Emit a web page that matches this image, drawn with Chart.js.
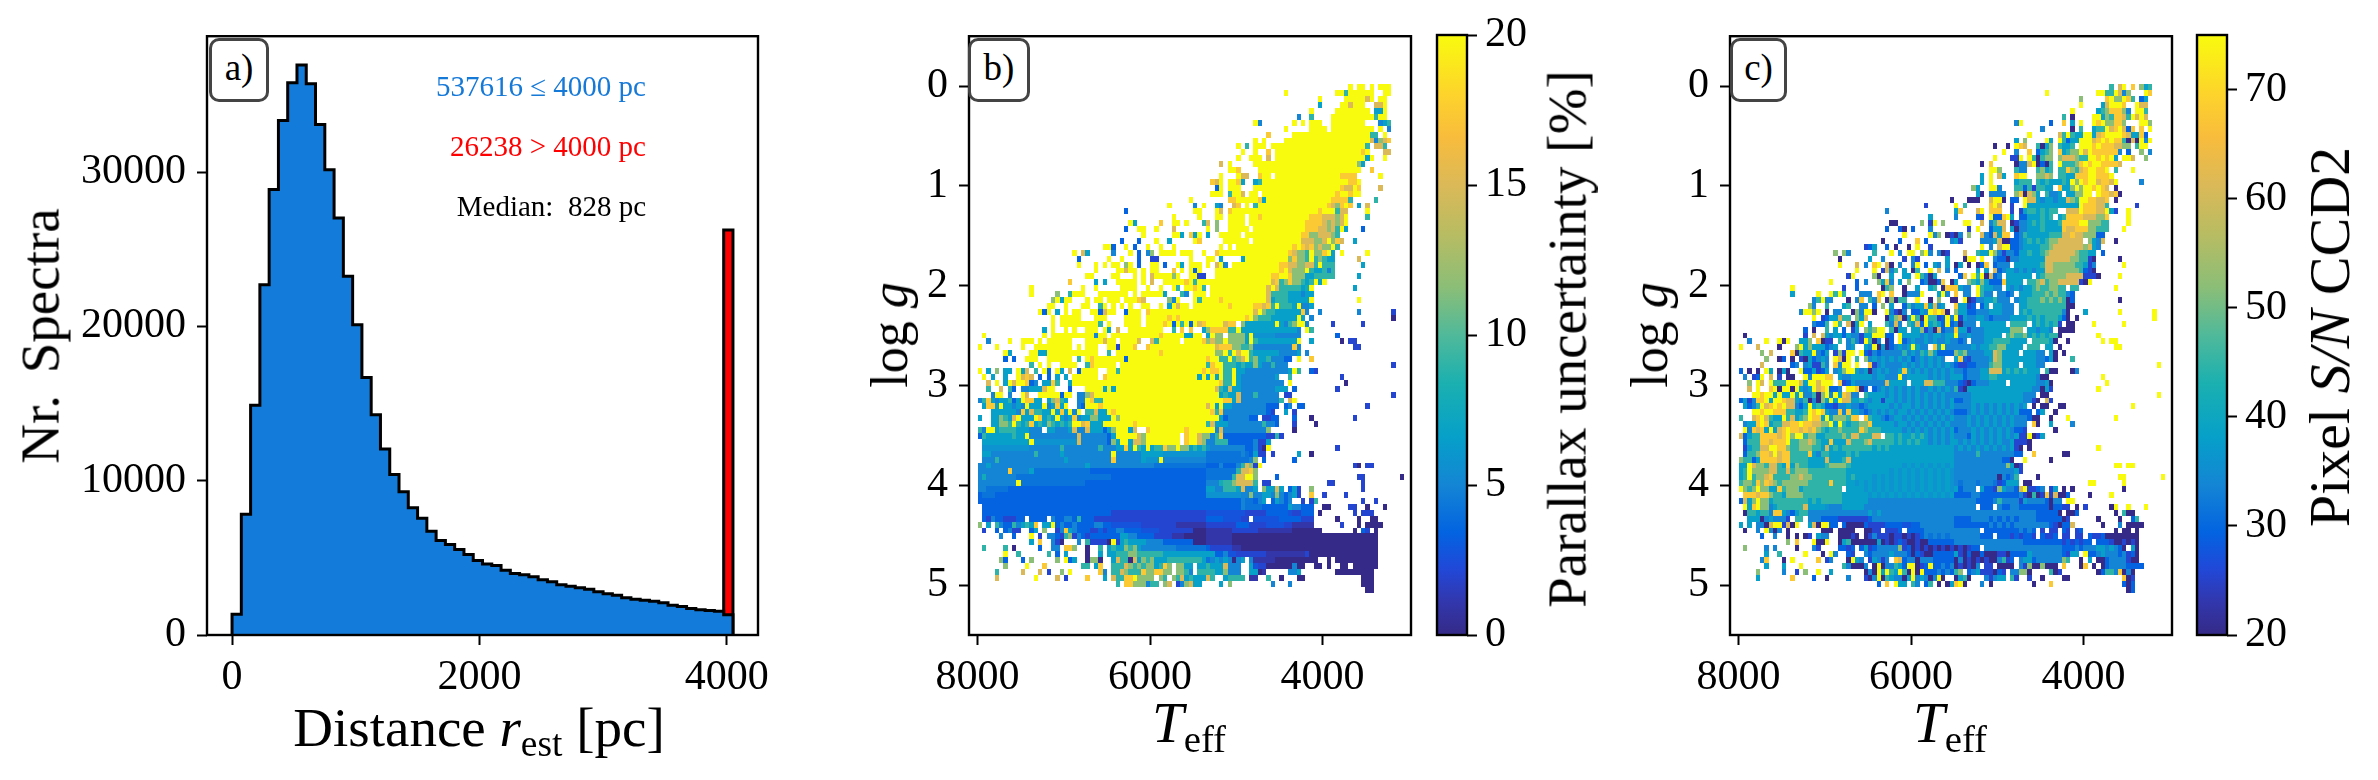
<!DOCTYPE html>
<html>
<head>
<meta charset="utf-8">
<script src="https://cdn.jsdelivr.net/npm/chart.js@4/dist/chart.umd.js"></script>
<style>
  html, body { margin: 0; background: #fff; }
  #fig { position: relative; width: 2378px; height: 780px; overflow: hidden; font-family: "Liberation Serif", serif; color: #000; }
  canvas { position: absolute; top: 0; }
  .lbl { position: absolute; white-space: nowrap; transform: translate(-50%, -50%); line-height: 1; }
  .lbl.rot { transform: translate(-50%, -50%) rotate(-90deg); }
  .lbl sub { font-size: 68%; vertical-align: -0.28em; line-height: 0; font-style: normal; }
  .note { position: absolute; white-space: nowrap; font-size: 29px; line-height: 1; transform: translateY(-50%); text-align: right; }
  .tag { position: absolute; top: 38px; height: 58px; box-sizing: content-box; border: 3px solid #444; border-radius: 10px; background: #fff; font-size: 37px; line-height: 54px; text-align: center; }
</style>
</head>
<body>
<div id="fig">
  <canvas id="histChart" width="800" height="780" style="left:0"></canvas>
  <canvas id="parallaxChart" width="580" height="780" style="left:850px"></canvas>
  <canvas id="parallaxBar" width="130" height="780" style="left:1420px"></canvas>
  <canvas id="snrChart" width="580" height="780" style="left:1612px"></canvas>
  <canvas id="snrBar" width="130" height="780" style="left:2180px"></canvas>

  <div class="tag" style="left:209px;width:54px">a)</div>
  <div class="tag" style="left:968px;width:56px">b)</div>
  <div class="tag" style="left:1730px;width:51px">c)</div>

  <div class="note" style="right:1732px;top:86px;color:#1579d8">537616 ≤ 4000 pc</div>
  <div class="note" style="right:1732px;top:146px;color:#ff0000">26238 &gt; 4000 pc</div>
  <div class="note" style="right:1732px;top:206px">Median:&nbsp; 828 pc</div>

  <div class="lbl" style="left:479px;top:727px;font-size:55px">Distance <i>r</i><sub>est</sub> [pc]</div>
  <div class="lbl rot" style="left:40px;top:336px;font-size:55px;word-spacing:8px">Nr. Spectra</div>
  <div class="lbl rot" style="left:890px;top:335px;font-size:52px">log <i>g</i></div>
  <div class="lbl" style="left:1189px;top:722px;font-size:57px"><i>T</i><sub>eff</sub></div>
  <div class="lbl rot" style="left:1567px;top:339px;font-size:55px">Parallax uncertainty [%]</div>
  <div class="lbl rot" style="left:1650px;top:335px;font-size:52px">log <i>g</i></div>
  <div class="lbl" style="left:1950px;top:722px;font-size:57px"><i>T</i><sub>eff</sub></div>
  <div class="lbl rot" style="left:2330px;top:337px;font-size:58px">Pixel <i>S/N</i> CCD2</div>
</div>
<script>
// ─── Data ───
const binWidth = 75;
const spectraCounts = [1350, 7830, 14880, 22700, 28860, 33330, 35780, 36940, 35720, 33080, 30140, 27020, 23250, 20100, 16680, 14270, 12050, 10400, 9280, 8245, 7570, 6730, 6120, 5860, 5540, 5220, 4830, 4600, 4510, 4190, 3990, 3900, 3770, 3575, 3450, 3250, 3160, 3060, 2960, 2800, 2670, 2580, 2420, 2320, 2250, 2190, 2090, 1930, 1840, 1710, 1640, 1580, 1545, 1320];
const overflowCount = 26238;
const overflowBin = [3975, 4050];
const histXTicks = [0, 2000, 4000];
const histYTicks = [0, 10000, 20000, 30000];
const teffTicks = [8000, 6000, 4000];
const loggTicks = [0, 1, 2, 3, 4, 5];
const parallaxTicks = [0, 5, 10, 15, 20];
const snrTicks = [20, 30, 40, 50, 60, 70];

// One string per log g row (top to bottom).
// "c:ddd" = cells from Teff column c on, "a-b:d" = run of one level.
const parallaxRows = [
"86:9 88:99 91:9 93-95:9",
"71:9 83:99 85:5 86-91:9 94:99",
"79:9 85-89:9 90:7 91:9 93:99",
"79:4 84:99 86:7 87-89:9 92:77 94:9",
"77:9 83-90:9 92:44 94:9",
"74:3 77:5 82-91:9 92:5 93:99",
"64:9 65:3 73:9 75:9 77:99 79:9 82-89:9 93:3 94:4 95:5",
"71:9 77-80:9 82-91:9 93:9 95:3",
"67:8 73-90:9 91:5 92:5 94:9",
"64:9 66:9 71-90:9 91:7 92:3 93:6 94:7 95:8",
"60:9 62:5 64-66:9 68-89:9 90:5 92:77 94:5",
"61:9 64:9 67:8 69-88:9 89:8 90:9 94:77",
"60:9 63-65:9 67:7 69-89:9 90:4 91:9 94:9",
"56:7 58:9 64-87:9 88:6 89:4",
"58:99 60:8 65-88:9 91:8",
"56:9 60:9 61:77 65:8 66:99 69-83:9 84-87:8 93:9",
"54:87 56:9 58:99 60:8 61:4 64:45 66-84:9 85:9 86:88 88:9",
"55:2 56:9 58-60:9 64-83:9 84:8 85:77 87:98 93:7",
"54-56:9 58:5 59:99 61:7 63:99 66-82:9 83:8 84:99 86:8 87:99",
"49:9 58:88 60:9 61-64:9 65:8 66:4 67-81:9 82-85:8 86:5 92:5",
"44:9 50:3 52:9 55:43 59:7 60:8 62:9 64:5 65-80:9 81:8 82:7 83:6 84:8 85:9 86:8 88:4 90:7",
"34:2 50:99 55:9 56:7 58:8 59-78:9 79:8 80-82:9 83:5 84:77 90:9",
"45:9 51:9 55:99 58-61:9 63:99 65:8 66-76:9 77:8 78:8 79:88 80:777 83:6 84:7 85:9 90:5",
"35:9 36:4 42:8 45:99 48:9 52:5 53:7 55:6 58-61:9 63-75:9 76:8 77:88 79:8 80:7 81:67 83:6 84:7 85:9",
"34:2 37:99 41:9 45:7 53:9 55:6 58-62:9 64-75:9 76:888 79:7 80:767 83:5 84:9 85:4 89:2",
"38:9 45:99 47:4 49:8 50:4 51:9 53:4 56-60:9 62-74:9 75:88 77:66 79:7 80:77 82:6 83:5",
"33:2 37:2 41:9 44:4 50:9 51:8 57-62:9 64-74:9 75:7 76:77 78:66 80:7 81:9 82:6 83:8 84:7 87:4",
"29:99 31:2 34:9 36:2 39:9 42:9 45:9 56:9 58:9 60-72:9 73:8 74:9 75:8 76:7 77:8 78:6 79:7 80:66 82:9 83:5",
"22:9 24:7 25:4 31:3 35:9 37:2 39:36 42:9 43-45:9 47-49:9 52:9 55:8 56-71:9 72:8 73:76 75:65 77:9 78:66 80:8 81:9 82:4 84:9 90:9",
"23:2 30:9 33:9 37:2 40:11 49:9 53:99 56:4 61:4 62-71:9 72:6 73:8 74:66 76:5 77:9 78:5 79:65 81:44 88:7",
"23:9 27:9 29:9 31:99 34:6 35:9 37:2 40:99 43:2 46:9 47:4 49-51:9 53:9 55:7 56:9 57:3 59-69:9 70:88 72:7 73:7 74:66 76:7 77:7 78:5 79:9 80:555 89:4",
"27:9 32:9 33:97 35:99 38:9 40:99 45:8 47:9 49:9 50:2 51:9 55-67:9 68:99 70:8 71:9 72:7 73:666 76:9 77:5 78:445 81:3 82:5",
"25:99 31:99 36:9 38:9 40:7 41-44:9 45:6 46:9 49:99 51:11 55-67:9 68:88 70:99 72:8 73:6 74:66 76:44 78-82:5 88:4",
"21:8 27:4 29:4 32-36:9 38:9 40:7 43-47:9 48:8 49:9 50:5 51:99 53-67:9 68:7 69:8 70:5 71:6 72:8 73:66 75:5 76:4 77:5 78:9 79:4 80:9",
"12:9 24:9 27:9 33-36:9 39:9 42:9 45:9 46:5 48:99 50:8 51:9 52:5 54-66:9 67:7 68:9 69:7 70:55 72:555 75:4 76:e 77:9 87:4",
"12:9 18:6 21:5 22-24:9 28-34:9 36:9 38-42:9 43:4 47:5 48:3 50-52:9 54-66:9 67:7 68:5 69:55 71:54 73:44 75:3 76:44",
"17:6 18:9 19:4 20:99 25:9 27:99 30-32:9 34-36:9 37:8 38:7 44:6 45:3 46:9 50:9 51:5 52:9 53-55:9 56:8 57-66:9 67:7 68:4 69:55 71:5 72:44 74:4 75:4 76:4 77:9 88:9",
"16:99 20:9 24:99 28:5 29:9 31:9 33:9 35:9 38:99 42:9 44:4 45:9 46:7 47:99 50-52:9 53-57:9 58:8 59-63:9 64:88 66:7 67:8 68:5 69:9 70:555 73:4 74:9 75:33 77:4",
"14:9 15:2 16:9 18:4 20:9 22:99 26:99 28:2 29:7 30:99 34:2 35-37:9 39:8 40-52:9 53-62:9 63:9 64:7 65:9 66:6 67:554444 73:4 74:4 75:8 76:3 79:3 88:3 96:1",
"17:9 19-23:9 27-29:9 34-37:9 39-43:9 44:8 45:9 46:8 47-52:9 53-61:9 62:8 63:9 64:6 65:555 68-73:4 74:9 75:4 77:3 96:0",
"17:9 19-27:9 28:5 30:9 34-37:9 39-42:9 43:8 44:9 45:2 46:9 47:5 48:9 49:2 50:9 51:7 52:8 53-56:9 57:7 58:88 61:6 62-68:4 69:9 70:4 71:3 72:56 74:9 75:9 76:3 82:1 89:1",
"15:4 17:9 20:9 22:9 25:9 26:99 29:9 30:4 32:7 35-42:9 45:5 47:8 49:8 52:4 53:6 54:888 57:8 58:55 60:9 61:4 62-73:4 74:3 76:9 77:5",
"1:9 15:9 17-26:9 27:3 28:99 31-41:9 42:8 43-47:9 48:44 50:99 53:4 54:9 55:66 58:666 61:6 62:4 63:9 64-68:d 69-73:3 74:3 83:2",
"2:3 7:9 10-12:9 14:9 16-21:9 25-28:9 29:7 30:99 33-36:9 37:7 40:7 41:5 42-46:9 48-51:9 52:8 53:6 54:7 55:66 57:9 58:666 61:6 62:4 63:9 64:5 65-73:4 74:9 77:4 84:0 86:11",
"0:9 4:9 10:9 13-21:9 23:9 25-27:9 30:99 32:1 33-35:9 36:8 39:8 40-52:9 53:99 55:78 57:88 59:66 61:55 63:6 64-72:3 73:8 74:3 87:11",
"6:9 7:4 12:99 14:44 16-22:9 23:99 25-27:9 30:5 32-41:9 42:8 43-52:9 53:99 55:6 56:69 58:5 59:9 60:7 61:99 63:5 64-69:4 70-73:3 74:4 76:3",
"6:2 8:2 11-13:9 16-21:9 23:5 25:9 26:8 27-33:9 34:2 35-52:9 53:8 54:99 56:55 58:9 59:5 60:67 62:9 63:5 64:6 65:44 67:5 68-70:3 71:22 74:9 77:8",
"12:5 14:9 16:9 19-22:9 25:5 26:8 27-31:9 33-52:9 53:5 54:8 55:99 57:555 60:4 61:5 62:44 64:6 65:4 66:33 68:5 69-71:3 96:1",
"0:9 2:4 4:6 6:4 7:4 9:9 10:4 11:7 13:5 15:9 16:2 18:9 19:4 21:7 23:2 24-27:9 30:99 32:5 33-51:9 52:8 53:9 54:88 56:9 57:55 59:9 60:44 62-70:3 71:3 72:4 73:9 74:5 77:21",
"1:9 3:4 6:4 9:9 10:7 11:8 12:7 14:2 16:2 18:4 20:4 22-27:9 29:8 30-50:9 51:4 52:9 53:4 54:9 55:4 56:9 57:55 59:9 60:4 61-68:3 69:4 72:5 84:1",
"2:7 4:9 6:4 7:9 8:7 9:99 11:8 12:2 13:3 15:4 16:4 17:8 18:5 21:4 22-52:9 53:99 55:9 56:8 57:55 59:9 60:4 61-70:3 72:9 85:0",
"2:5 5:7 7:5 8:2 10:33444 15:7 16:99 21:2 25:99 27:99 29:4 30:9 31:4 32-52:9 53:99 55:7 56:5 57:4 58:7 59:44 61-68:3 69:444 73:2 83:1",
"3:3 4:99 7:3 10:9 11:7 14:9 15-18:9 19:2 20:99 23:33 25:6 26:7 27-52:9 53-55:9 56:45 58:4 59:4 60:7 61:333 64:5 65-69:3 71:11 96:1",
"0:35 2:8 3:4 4:3 5:4 6:4 7:5 8:2 9:4 10:9 11:88 13:44 16:4 17:6 18:7 19:5 20:4 23:33 25:9 26:8 27:55 29-52:9 53-56:9 57:88 59:47 61-69:3 70:5 72:7 73:9",
"1:4 2:88 4:4 5:9 6:443 9:43 11:9 12:4 13:44 15:9 16:3 17:4 18:8 19:4 20:9 23:32 25:9 26:9 27:98 29-52:9 53:7 54:9 55:4 56:9 57:44 59-66:3 67-69:2 71:23 74:22 90:1",
"3:44 5:4 6:4 7:44 9:3 10:8 11:4 12:7 13:5 14:54 16:4 17:9 18:4 19:8 20:4 21:9 22:3 23:9 25:55 27:7 28:4 29:4 30:9 31:8 32-52:9 53:9 54:8 55:5 56:8 57:3 58-66:3 67:2 68:1 71:4 73:1",
"0:4 3:44 5:6 6:5 7:4 8:7 9:9 10:4 11:4 12:4 13:9 14:8 15:45 17:4 18:9 19:4 20:3 21:4 22:8 23:3 24:44 26:66 28:4 29:44 31:9 32:6 33-52:9 53-55:9 56:4 57:2 58-62:3 63:22 66:1 67:1 68:22 73:2 77:0 87:1",
"3:44 5:66 7:5 8:9 9:5 10:4 11:5 12:8 13:4 14:5 15:4 16:6 17:5 18:4 19:5 20:4 21:5 22:9 23:9 24:7 25:8 26:4 27:44 29:9 30:99 32:99 34:9 35:9 36:8 37-52:9 53:5 54:7 55:44 57:4 58-65:3 66:5 67:3 68:3 69:2 73:1 78:0",
"0:5 1:3 2:99 4:45 6:55 8:5 9:44 11:4 12:333 16:44 18:333 21:4 22:7 23:33 25:7 26:444 29:2 30:4 31:6 32:99 34:9 35:4 36:7 39:8 40-47:9 48:8 49-52:9 53:99 55:3 56:7 57-65:3 66:3 67:6 73:0",
"0:2 1:5 2-7:4 8:5 9:44 11:9 12-22:3 23:7 24-29:3 30:2 31:4 32:9 33-36:9 37:7 38:6 39-46:9 48:8 49:99 51:7 52:6 53:6 54:3 55:5 56:8 57-66:2 67:1 68:1 69:5 70:1",
"1-11:4 12:9 13-22:d 23:7 24-29:3 30:2 31:6 32:4 33:99 35:4 36:77 38:6 39-46:9 48:8 49:99 51:7 52:6 53:33 55:5 56:55 58-63:2 64:3 65:1 66:1 67:4",
"1-11:d 12-18:3 19:5 20-27:3 28:5 29:333 32:44 34:8 35:4 36:9 37:5 38:4 39:9 40:4 41:55 43:8 44:6 45:6 46:9 47:66 49:45 51:45 53:d 54-61:3 62-63:2 64:3 65:1 66:0 67:9 83:1",
"1:44 3-12:3 13:5 14-18:3 19:4 20-30:3 31:9 32-37:3 38-42:4 43-52:d 53-60:c 61:3 62:c 63:2 64:4 65:11 68:1 74:4 77:0",
"1-3:3 4:5 5-19:3 20:4 21-30:3 31:8 32-37:3 38:4 39-41:d 42:9 43-52:3 53-62:c 63:3 64:6 66:2 73:2",
"0-1:3 2:4 3-24:3 25:4 26-40:3 41-52:c 53-55:2 56:3 57-59:2 60:3 61:5 62:7 63:6 64:1 65:9 87:10 90:11",
"0-6:3 7:8 8-11:3 12:4 13-25:c 26-52:2 53-59:c 60:5 61:77 63:8 64:6",
"0:3 1:e 2-8:3 9-30:c 31-52:2 53-58:c 59:5 60:77 62:99 64:6 69:2 88:11 98:0",
"0-8:3 9:9 10-24:c 25-52:2 53-55:3 56:e 57:55 59:6 60:77 62:77 64:5 66:11 81:11 89:1",
"0-1:3 2-6:c 7-52:2 53:44 55:33 57:55 59:5 60:4 61:7 62:33 64:4 66:6 67:4 68:4 69:7 70:4 72:2 73:4 74:1 77:6 89:1",
"0:2 1-3:c 4-52:2 53-60:d 61:33 63:6 64:33 66:44 68:3 69:6 70:3 71:2 72:3 73:4 74:1 77:8 80:1 85:1",
"0-60:2 61:3 62-63:c 64:2 65:3 66:4 68:2 69:4 70:32 72:3 75:1 77:15 89:1 92:1",
"1-60:2 61:3 62-65:c 66-71:2 72:4 73:33 75:222 80:00 86:11 90:0 94:0",
"1-30:2 31-52:1 53-61:b 62-66:1 67-71:2 72:b 73:11 75:22 77:2 79:0 87:1 89:111",
"1:2 2:1 3:3 4:22 6-8:1 9:22 12-15:2 17:3 18:22 20:33 22:2 23:5 24:22 26:2 27:1 28:1 29-52:1 53-56:2 57-60:b 61:1 62:1 64-69:b 70-74:2 75-77:1 83:0 88:0 91:00",
"0:6 2:4 4:5 5:3 6:22 8:5 9:3 10:45 12:4 13:8 15:44 17:9 18:2 19:322 22:3 23:22 25:2 26:233 29:2 30:2 31-37:b 38-45:1 46-52:a 53-59:1 60-62:2 63-66:1 67-70:b 71-72:1 73-77:a 84:1 88:0 90:0000",
"1:1 4:2 6:2 7:3 8:11 12:2 13:4 15:6 18:1 19:3 20:8 21:4 22:3 23:22 25:21 27:1212 31:2 32:33 34-37:2 38-41:b 42-49:1 50-52:0 53-58:a 59-64:1 65-72:a 73-79:0 87:0 89:2 90:1 92:0",
"5:3 8:2 12:9 14:1 16:3 17:3 18:2 19:1 20:56 22:1 23:3 24:21 26-32:2 33:44 35:33 37-40:2 41-44:1 45-47:a 48-52:0 53-58:a 59-92:0",
"12:4 14:8 17:3 18:1 19:0 23:3 25:5 26:1111 30:0 31:9 32:1 33:45 35-38:4 39-42:3 43-49:2 50-52:0 53-58:a 59-92:0",
"1:5 6:5 8:0 14:2 17:33 20:88 22:6 25:0 28:5 30:4 31:5 32:44 34:6 35:5 36:64 38:3 39-45:3 46-52:c 53:2 54-58:1 59-60:a 61-92:0",
"6:9 9:5 16:5 18:2 20:4 25:0 28:4 30:44 32:555 35:66 37:55 39-42:5 43-52:4 53:44 55:22 57:3 58:bb 60-66:1 67-75:a 76:1 77-92:0",
"5:6 6:2 10:2 12:6 18:6 20:9 21:2 22:4 25:0 26:66 28:0 31:4 32:7 33:55 35:0 36:7 37:4 38:6 39:56 41:44 43:455 46:55 48:55 50:55 52:4 53:c 54:3 55:4 56:3 57:4 58:3 59:0 60:3 61:4 63:3 64-68:a 69-78:0 81:0 83-92:0",
"6:6 11:9 15:8 24:55 27:4 28:8 31:5 32:55 34:7 35:6 36:5 37:6 38:5 39:66 41:45 43:8 44:6 46:66 48:4 49:4 51:44 53:544 56:4 57:7 58:333 63:4 64:b 65:11 67-72:0 73:3 74-75:0 78:00 81:0 84:00 87-92:0",
"4:5 10:7 14:7 16:1 19:6 21:9 28:8 29:3 31:55 33:7 34:6 35:5 36:55 38:8 39:66 41:88 43:66 46:66 48:5 49:3 51:55 53:55 55:44 57:6 58:333 63:44 65:0 66:a 72:33 74:4 83-91:0",
"4:7 13:9 18:7 20:1 25:8 29:4 31:7 32:55 34:88 36:9 37:66 39:66 42:6 43:5 45:6 46:5 47:7 48:45 50:4 51:44 53:75 57:4 58:55 60:5 61:5 63:aa 67:5 70:0 74:00 89-91:0",
"32:5 34:88 36:666 39:3 40:55 43:6 44:7 46:1 47:3 48:6 49:7 50:44 56:4 58:6 68:3 72:3 89-91:0",
"90:00"
];

const snrRows = [
"86:5 88:7 89:9 91:8 93:6 94:45",
"71:9 83:99 85:55 87:9 88:7 89:3 90:6 94:98",
"79:6 85:8 86:9 87:66 89:9 90:8 91:5 93:2 94:4",
"79:9 84:4 85:7 86:999 89:8 92:9 93:77",
"77:9 83:4 84:5 85:6 86:888 89:6 90:3 92:99 94:5",
"75:5 77:0 82:99 84:46 86:5 87:88 89:7 90:5 91:9 92:7 93:9 94:7",
"64:3 65:9 72:2 75:8 77:4 79:9 82:9 83:8 84:9 85:66 87:88 89:6 93:99 95:6",
"70:3 77:0 79:5 82:4 83:55 85:9 86:7 87:8 88:9 89:7 90:2 91:8 93:8 95:9",
"67:9 74:7 75:5 76:9 77:5 78:44 80:99 82:4 83:7 84:8 85:999 88:9 89:87 91:444 93:8 94:2",
"64:4 66:6 71:9 72:4 74:9 75:5 76:2 77:44 79:999 82:7 83:8 84:9 85:8 86:9 87:88 89:5 90:0 91:7 92:0 93:9 94:3 95:9",
"59:0 62:0 64:9 65:8 66:7 69:5 70:0 71:4 72:6 74:5 75:44 77:5 79:999 82:8 83:9 84:8 85:88 87:77 89:66 92:5 93:99",
"61:9 64:3 67:8 69:2 70:4 71:56 74:8 75:45 77:66 79:9 80:7 81:9 82:888 85:88 87:8 88:3 90:2 93:6 95:3",
"59:9 63:11 65:9 67:9 68:5 69:0 70:5 71:66 74:6 75:77 77:76 79:55 81:9 82:98 84:9 85:8 86:9 87:4 89:99 91:7 94:6",
"56:0 58:8 64:0 65:33 67:7 68:9 69:0 70:2 71:0 72:5 74:9 75:55 77:5 78:68 80:9 81:8 82:99 84:88 86:88 88:7",
"58:99 60:6 64:5 65:33 69:5 70:6 71:45 74:55 76:8 77:6 78:57 80:8 81:99 83:88 85:9 87:5 91:9",
"56:4 58:9 60:7 61:4 64:8 65:99 69:66 71:76 74:55 76:44 78:888 81:99 83:8 84:88 86:9",
"56:4 58:9 64:4 65:55 67:5 69:54 71:54 73:4 74:45 76:4 77:9 78:6 79:9 80:89 82:97 84:88 86:7 87:9 93:3",
"54:6 55:4 58:99 60:3 64:5 65:52 67:5 68:1 69:55 71:44 74:8 75:44 77:6 78:96 80:9 81:98 83:98 85:7 87:0",
"55:4 56:0 58:33 60:33 64:6 65:8 66:0 67:7 68:6 69:4 71:5 72:33 74:4 76:44 78:66 80:99 83:9 84:88 86:7 87:8 88:0",
"49:0 53:000 58:7 59:99 61:0 63:22 66:9 67:77 69:4 70:3 71:44 73:3 74:44 76:7 77:6 78:5 79:99 81:88 83:77 85:8 87:0",
"43:1 50:9 52:5 58:8 59:9 60:7 63:1 66:9 67:4444 71:444 74:44 76:44 78:44 79:9 80:8 81:88 83:77 85:5 92:1",
"34:3 50:4 51:8 55:7 56:9 58:88 60:8 63:1 65:14 67:55 69:45 71:45 73:5 76:777 79:9 80:888 83:77 85:94 87:1 90:9",
"44:4 50:3 55:21 58:9 59:22 61:8 62:9 63:4 65:22 67:44 69:45 71:45 74:45 76:8 77:88 79:8 80:77 82:7 83:66 85:8 90:9",
"35:00 42:6 44:1 45:9 47:6 52:99 56:7 58:35 60:77 63:0 64:1 65:33 67:45 69:45 71:44 73:4 74:5 75:888 78:8 79:99 81:6 82:66 84:55 90:9",
"34:2 37:2 38:0 40:2 44:3 53:1 55:9 58:24 60:47 63:4 64:0 65:33 67:44 69:45 71:44 73:44 75:87 77:78 79:88 81:66 83:55 85:5 89:9",
"38:9 44:9 45:3 46:6 48:01 50:0 51:3 53:6 56:7 57:3 58:2 59:7 60:4 61:88 64:23 66:54 68:44 70:44 72:55 74:55 75:77 77:87 79:76 81:66 83:22",
"33:0 37:2 41:8 43:2 49:3 50:4 51:1 56:33 58:3 59:4 60:7 61:00 63:2 64:23 66:45 68:4 69:54 71:5 72:66 74:7 75:77 77:77 79:7 81:6 82:4 83:3 84:7 87:0",
"29:12 31:4 34:2 36:0 39:0 41:9 44:1 56:9 58:3 60:7 61:99 63:22 65:3 66:44 68:4 69:45 71:56 73:7 74:77 76:77 78:77 80:6 81:7 82:4 83:3",
"22:6 24:6 25:3 31:5 35:9 37:3 39:99 42:6 43:9 44:3 46:3 47:01 52:7 55:5 56:44 58:9 59:6 60:3 61:1 62:3 63:3 64:2 65:44 67:54 69:45 71:67 73:77 75:77 77:76 79:5 80:5 81:44 84:2",
"23:0 30:4 33:3 38:1 40:31 48:4 52:0 53:99 56:9 59:3 60:22 62:0 63:33 65:44 67:44 69:44 71:77 73:77 75:77 77:66 79:55 81:1 82:0 88:0",
"23:9 27:7 29:3 31:89 34:7 35:0 37:3 40:39 43:2 45:43 48:4 50:0 51:4 53:0 55:0 56:2 57:8 59:23 61:3 62:3 64:4 65:444 68:4 69:45 71:77 73:66 75:66 77:65 79:54 81:1 82:3 89:9",
"27:9 31:9 33:17 35:3 36:5 38:4 40:05 44:9 46:7 48:3 50:2 55:4 57:4 59:7 60:23 62:44 64:3 65:43 67:43 69:4 70:4 71:77 73:66 75:66 77:66 79:52 81:1 82:0",
"25:19 31:60 35:4 38:44 41:953 44:04 51:2 52:8 54:9 55:5 56:9 57:0 58:7 59:23 62:4444 66:4 67:4 69:45 71:66 73:66 75:6 76:77 78:77 80:11 82:1 83:0 88:9",
"21:9 27:2 29:3 32:6 33:48 35:3 37:4 39:6 42:23 44:00 46:28 49:0 50:4 53:6 54:5 55:4 56:6 57:4 58:22 60:2 61:8 62:4444 67:5 68:5 69:67 71:56 73:67 75:77 77:77 79:1 80:0 81:9",
"12:9 24:1 27:2 33:056 38:0 41:4 44:45 47:088 50:8 51:433 55:9 56:544 59:33 62:43 64:43 66:4 67:4 68:5 69:65 71:56 73:65 75:5 77:5 78:5 87:9",
"12:4 18:9 21:959 24:5 28:33 30:3 32:8 33:9 35:8 38:0 39:33 41:3 42:9 46:4 47:9 48:3 50:8 52:33 55:9 56:533 60:33 62:23 65:44 67:4 68:55 70:5 71:65 73:65 75:5 76:3 77:2",
"17:3 18:59 20:33 25:0 27:3 28:8 30:5 31:3 32:8 34:06 36:0 37:55 41:9 44:0 46:6 49:0 50:0 52:9 53:01 55:33 57:445 60:333 64:34 66:4 67:5 68:55 70:65 72:65 74:65 76:0 77:2 88:0",
"16:63 20:5 24:45 28:33 31:2 33:6 35:4 38:25 40:3 41:44 43:84 45:73 47:4 50:8 51:44 53:12 56:24 59:44 61:333 65:4 66:45 68:55 70:55 72:55 74:55 76:00",
"14:3 15:99 17:69 20:0 22:33 26:06 28:3 29:99 31:0 34:9 35:310 38:3 40:22 42:43 44:98 46:98 48:0 50:6 51:44 53:22 55:3 56:33 58:4 59:44 61:333 65:45 67:45 69:55 71:55 73:55 75:3 76:0 80:4 88:9 96:9",
"17:9 19:12 21:44 23:7 24:55 27:6 28:4 29:7 34:0 35:467 38:04 40:9 41:5 42:0 43:9 44:55 46:12 48:93 50:9 51:1 52:4 53:33 55:44 57:32 59:3 60:333 63:444 66:4 67:54 69:54 71:55 73:5 74:4 75:2 76:0 78:0 96:9",
"17:322 20:5 22:9 23:5 25:70 27:49 30:4 34:5 35:373 39:54 41:72 43:9 44:45 46:42 48:92 50:3 51:0 52:333 56:44 58:4 59:444 63:5 64:555 68:45 70:45 72:45 74:1 76:00 82:9 89:9",
"15:2 17:0 20:5 22:4 24:2 26:14 29:656 32:99 35:50 37:44 40:44 42:61 44:30 46:72 48:3 49:3 50:8 51:4 52:41 54:333 57:444 60:444 63:666 67:44 69:34 71:43 74:0 75:000",
"1:0 15:1 17:7 19:7 20:4 21:3 22:44 24:2 25:4 26:33 28:1 29:44 31:9 32:99 34:22 37:9 38:4444 42:3434 46:4344 50:9 51:33 53:4 54:33 56:34 58:444 62:56 64:556 67:45 69:45 71:45 73:5 74:0 83:9",
"2:3 6:9 9:909 14:4 15:46 18:8 19:0 20:11 23:5 25:3 26:5 27:3 28:1 29:9 30:5 31:0 32:3 34:02 37:9 38:2 39:34334343 47:343 50:3 51:2 52:3 54:333 57:445 60:555 63:4444 68:55 70:55 72:4 73:0 76:0 84:9 86:99",
"0:9 4:7 9:0 13:6 14:9 15:4 16:6 17:44 19:4 20:2 21:3 22:4 25:3 26:4 29:4 30:3 31:9 32:0 33:4 34:02 36:3 37:4 38:34 40:9 41:4 42:33 45:8 46:4 47:9 48:333 51:33 53:34 55:33 56:44 58:55 60:66 62:4444 67:5 68:55 71:4 72:4 74:0 87:99",
"5:6 7:7 12:8 13:0 14:54 16:4 17:9 18:3 19:2 20:4 22:1 23:6 24:1 25:99 28:9 29:2 30:1 31:3 32:2 33:3 34:3333 38:5 39:34 41:3 42:54 44:6 45:4 46:2222 50:6 51:5 52:6 53:3 54:3334 58:4 59:76 61:4444 66:444 69:33 72:4 73:0 75:0",
"6:6 9:0 10:2 12:0 14:1 15:0 16:4 17:2 18:3 19:4 20:3 22:9 23:7 24:09 27:5 29:6 30:3 31:4 32:3 33:4 34:3434342 41:3 42:4343 46:4 47:3 50:4 51:8 52:2 53:1 54:333 57:34 59:76 61:44444 66:444 69:33 71:2 72:4 73:0 77:5",
"5:7 12:23 15:3 16:4 17:11 19:5 20:3 22:8 23:3 24:99 27:9 30:8 31:1 32:34 34:3333 38:4 39:34 41:34 43:34 45:34 47:343 50:2 51:11 53:22 55:333 58:5 59:66 61:4444 66:444 69:33 97:9",
"0:2 2:0 4:0 6:9 7:4 9:0 10:4 11:0 14:9 15:22 17:4 18:12 20:4 22:34 24:6 25:99 27:43 29:4 30:0 31:3 32:4343 36:34 38:8 39:4343 43:4343 47:434 50:33 52:2 53:333 56:44 58:777 61:45 63:4545 67:4 68:44 71:5 72:00 77:0 78:3",
"1:3 3:1 4:2 5:9 7:7 9:1 11:00 15:9 16:3 17:99 19:98 21:8 23:4 24:33 26:44 28:444 31:3 32:44 34:333 37:9 38:3 39:4444 43:4343 47:434 50:44 52:2 53:333 56:44 58:55 60:444 63:4444 67:44 69:3 70:0 71:0 84:9",
"2:6 4:9 5:7 7:9 8:555 11:999 14:7 15:4 16:99 18:7 19:99 21:9 23:8 24:12 26:43 28:333 31:3 32:33 34:7 35:4444 40:44 42:4 43:7 44:7 45:55 47:5 48:33 50:3 51:2 52:1 53:0 54:2 55:333 58:4 59:444 63:4444 67:4 68:4 69:33 71:4 72:0 85:9",
"2:7 4:9 7:8 8:9 9:0 10:9 11:90 13:9 14:4 15:34 17:97 19:8 20:9 21:2 22:23 25:9 26:9 27:8 28:02 31:23 33:4343 37:43 39:4343 43:3434 47:343 50:5 51:1 52:0 53:4444 57:4444 61:4444 65:444 68:33 70:0 71:4 72:1 83:9",
"3:99 5:8 6:99 8:4 9:9 10:44 12:9 13:4 14:9 15:33 17:5 18:0 19:6 20:93 22:94 24:87 26:3 27:3 29:54 31:44 33:4343 37:4343 41:4343 45:4343 49:3 50:33 52:33 54:4444 58:4444 62:4444 66:3 67:33 70:00 97:9",
"0:2 1:4 2:1 3:3 4:88 6:9 7:4 8:99 10:8 11:77 13:4 14:3 15:5 16:0 17:3 18:0 19:64 21:9 22:4 23:9 24:77 26:4 27:45 29:4 30:34 32:4 33:1 34:44 36:3434 40:3434 44:3434 48:34 50:22 52:33 54:4444 58:4444 62:4444 66:3 67:3 68:10 71:7 72:1",
"1:4 2:23 4:59 6:7 7:8 8:9 9:8 10:9 11:7 12:7 13:3 14:2 15:4 16:9 17:4 18:5 19:4 20:22 22:1 23:33 25:4 26:33 28:2 29:34 31:4444 35:3434 39:4343 43:4343 47:434 50:3 51:333 54:4343 58:4343 62:43434 68:0 70:00 74:00 91:9",
"3:9 4:98 6:9 7:98 9:88 11:5 12:5 13:44 15:5 16:9 17:8 18:9 19:8 20:4 21:33 23:8 24:3 25:8 26:44 28:3 29:2 30:34 32:34 34:3434 38:4343 42:4343 46:4343 50:222 53:3434 57:3434 61:3434 65:222 69:2 70:4 73:0",
"0:5 3:7 4:8 5:9 6:7 7:5 8:4 9:4 10:9 11:5 12:7 13:4 14:5 15:6 16:9 17:88 19:4 20:9 21:4 22:666 25:5 26:88 29:8 30:5 31:4 32:4 33:3 34:2 35:3 36:44 38:3434 42:3434 46:3434 50:333 53:4343 57:4343 61:4343 65:33 67:2 68:00 72:0 76:9 87:9",
"1:3 2:44 4:8 5:9 6:8 7:4 8:55 10:77 12:88 14:9 15:88 17:77 19:66 21:9 22:4 23:9 24:5 25:4 26:55 28:6 29:6 30:8 31:44 33:44 35:4344 39:3434 43:3434 47:343 50:333 53:4343 57:4343 61:4343 65:33 68:8 69:0 72:4 77:3",
"1:9 2:3 3:8 4:7 5:8 6:4 7:94 9:7 10:8 11:9 12:88 14:7 15:87 17:8 18:6 19:5 20:4 21:55 23:6 24:5 25:55 27:5 28:8 29:6 30:555 33:44 35:44 37:4343 41:4343 45:4343 49:4 50:2 51:333 54:4343 58:4343 62:43 64:22 66:1 73:0",
"0:7 1:2 2:4 3:55 5:8 6:88 8:87 10:89 12:6 13:99 15:56 17:6 18:4 19:4 20:55 22:55 24:65 26:77 28:55 30:5 31:77 34:5 35:5454 39:4545 43:4343 47:434 50:333 53:2 54:4343 58:4343 62:434 65:11 67:9 68:0 69:1 70:4",
"1:2 2:55 4:5 5:8 6:87 8:8 9:88 11:9 12:55 14:66 16:76 18:5 19:44 21:8 22:444 25:7 26:5 27:55 29:67 31:55 33:55 35:5454 39:5454 43:4343 47:434 50:4343 54:4343 58:4343 62:3 63:4 64:11 66:1 67:0",
"1:1 2:45 4:5 5:77 7:99 9:88 11:6 12:55 14:66 16:65 18:5 19:4 20:7 21:45 23:45 25:5 26:55 28:5 29:55 31:45 33:45 35:4444 39:4444 43:4444 47:444 50:3434 54:3434 58:3434 62:34 64:10 67:0 83:9",
"1:2 2:55 4:6 5:88 7:7 8:97 10:88 12:555 15:5 16:8 17:4 18:3 19:55 21:4 22:44 24:45 26:4544 30:4444 34:4444 38:4444 42:4444 46:4444 50:3333 54:3 55:5 56:3333 60:3333 64:22 68:8 75:0 76:0",
"0:6 1:55 3:2 4:4 5:88 7:88 9:7 10:88 12:5 13:555 16:44 18:44 20:7 21:444 24:5 25:74 27:4444 31:4444 35:4444 39:4444 43:4444 47:444 50:3333 54:3333 58:333 61:22 63:0 66:9 72:0",
"0:44 2:9 3:7 4:66 6:5 7:77 9:5 10:4 11:8 12:46 14:55 16:44 18:44 20:5 21:6666 25:5 26:4444 30:4444 34:4444 38:d4d4 42:d4d4 46:d4d4 50:3333 54:3333 58:3333 62:6 63:4 64:0 65:1 87:99 90:99",
"0:45 2:9 3:6 4:66 6:6 7:77 9:5 10:5 11:7 12:5 13:66 15:65 17:55 19:5 20:5555 24:5 25:44 27:4444 31:4444 35:d4d4 39:d4d4 43:d4d4 47:d4d 50:3333 54:3333 58:3333 62:33 64:4 65:1",
"0:45 2:9 3:5 4:66 6:7 7:8 8:55 10:55 12:66 14:7 15:66 17:55 19:5 20:5555 24:54 26:5 27:4444 31:d4d4 35:d4d4 39:d4d4 43:d4d4 47:d4d 50:3333 54:3333 58:33 60:0 61:3 62:2 63:3 64:5 69:0 88:99 98:9",
"0:56 2:65 4:8 5:6 6:87 8:65 10:66 12:66 14:66 16:5 17:5 18:55 20:55 21:8 22:555 25:44 27:d4d4 31:d4d4 35:d4d4 39:d4d4 43:d4d4 47:d4d 50:3c33 54:3c33 58:3c 60:1 61:2 62:44 64:4 66:00 81:99 89:9",
"0:9 1:6 2:56 4:9 5:66 7:4 8:4 9:8 10:5 11:6 12:66 14:45 16:55 18:55 20:55 22:55 25:44 27:44 29:d4d4 33:d4d4 37:d4d4 41:d4d4 45:d4d4 49:d4 51:2 52:333 56:4 57:22 59:1 60:6 61:4 62:33 64:2 65:7 66:9 67:11 69:2 70:3 72:1 73:4 75:0 77:0 89:0",
"1:8 2:88 4:78 6:8 7:6 8:55 10:46 12:66 14:6 15:55 17:55 19:55 21:55 23:5 24:44 26:4444 30:d4d4 34:d4d4 38:d4d4 42:d4d4 46:d4d4 50:2222 54:33 56:2222 60:2222 64:2 65:3 66:1 67:0 68:5 69:0 70:1 71:8 72:1 73:7 74:00 76:2 81:0 86:9",
"0:2 1:7 2:4 3:6 4:9 5:66 7:45 9:5555 13:55 15:5 16:45 18:45 20:5 21:55 23:5 24:4444 28:44 30:3333 34:3333 38:3333 42:3333 46:3333 50:33333 55:2 56:222 59:3 60:5 61:333 64:3 65:1 66:43 68:33 70:32 72:0 73:33 76:99",
"1:9 2:4 3:89 5:66 7:3 8:45 10:55 12:555 15:7 16:44 18:44 20:d3 22:33 24:4444 28:4 29:3333 33:3333 37:3333 41:3333 45:3333 49:3 50:333 53:33 56:222 60:3 61:22 63:33 65:22 67:22 69:22 71:2 72:0 73:22 75:1 76:1 78:0 80:1 86:0 87:9 90:9 94:9",
"1:0 2:55 4:4 5:55 7:3 8:88 10:4 11:3 12:2 13:4 14:55 16:3 17:33 19:33 21:3333 25:3333 29:3434 33:3333 37:3333 41:3333 45:3333 49:3 50:3333 54:3333 58:3333 62:333 65:3333 69:22 71:22 73:2 74:0 76:00 78:2 87:0 89:5 90:00",
"2:44 4:44 5:0 6:3 7:4 8:33 10:3 11:1 13:55 16:3 17:33 19:22 21:22 23:111 26:111 29:12 31:33 33:3333 37:3333 41:3333 45:3333 49:3 50:2222 54:3333 58:2323 62:2323 66:333 69:2222 73:22 75:01 83:0 88:0 91:2 92:5",
"0:4 2:4 4:33 6:0 7:7 8:99 10:1 11:7 12:0 13:9 16:4 17:7 18:09 20:9 21:2 22:2 24:2 25:00 27:00 29:21 31:11 33:1 34:22 36:22 38:bb 40:22 42:3333 46:3333 50:2222 54:2222 58:3232 62:3232 65:333 68:33 70:33 72:2 73:10 75:22 77:7 84:0 88:3 90:0000",
"1:0 4:3 6:9 7:3 8:0 9:3 11:0 19:0 20:00 23:0000 29:00 31:11 34:11 36:12 39:22 41:22 43:3333 47:333 50:3333 54:3 55:3 57:2222 61:2222 65:32 67:32 70:1 72:1 73:1 75:21 78:12 87:0 89:00 92:0",
"5:2 8:3 11:0 13:0 15:01 18:4 19:33 23:00 25:01 27:0 29:01 31:3 32:11 34:10 36:11 38:0 39:1 40:0 41:1 42:2 43:3c3c 47:3c3 50:3333 54:3 55:3222 60:222 63:12 65:12 67:21 70:21 72:12 75:11 78:11 81:21 83:12 85-92:0",
"11:6 13:8 17:9 18:00 20:9 23:0 24:45 26:00 28:0 29:0 30:00 32:40 34:10 36:1 37:21 39:00 41:10 43:0 44:2222 48:22 50:3333 54:3333 58:3333 62:3333 66:2222 70:2222 74:21 76:2121 80:22 83:22 85:21 87:00 89:1010",
"1:6 6:3 8:3 13:0 17:3 18:1 23:22 25:12 28:2 29:4 30:1 31:23 33:3 34:33 36:33 37:6 38:12 40:0 41:1 42:01 44:0 45:10 47:10 49:1 50:0 51:10 53:1 54:22 57:3333 61:3333 65:33 67:3333 71:3333 75:22 77:2323 81:3344 85:34 87:32 89:0 91:4 92:0",
"6:4 9:5 15:9 19:0 21:9 22:3 25:21 29:32 31:3 32:33 34:34 36:33 38:3 39:2 40:0 41:21 43:00 45:22 47:222 50:4 51:1 52:0 53:2 54:0 55:0 56:2 57:000 60:11 62:0 63:22 65:22 67:43 69:33 71:33 73:33 75:23 76:1 77:44 80:9 81:22 83:34 85:33 87:32 89:3 90:12 92:0",
"5:3 6:8 10:0 12:9 18:8 20:1 21:3 25:0 26:9 27:4 28:3 30:1 31:43 33:1 34:3 36:87 38:2 39:33 41:0 42:33 44:3 45:22 47:222 50:0 51:3 52:0 53:1 54:0 55:1 56:0 57:100 60:3 61:5 62:12 65:34 67:4 68:23 70:33 72:33 74:3 75:6 76:5 79:0 81:4 83:00 85:2 86:33 88:33 90:1 91:00",
"6:4 10:4 14:9 24:5 25:3 26:000 29:3 31:0 32:9 33:0 34:33 36:54 38:2 39:99 41:0 42:12 44:9 45:2 46:2323 50:0 51:1 52:0 53:1 54:0 55:3 57:11 60:0 61:000 65:3 66:1 67:6 68:00 70:6 71:000 75:8 79:0 80:8 82:0 84:0 85:2 86:33 88:33 90:2222",
"4:6 10:3 13:1 15:6 18:9 21:4 29:0 30:3 31:0 32:9 33:4 34:9 35:54 37:9 38:5 39:0 40:90 42:9 43:2 44:22 46:3232 50:5 51:6 53:23 55:4 56:11 58:1 59:0 60:21 63:33 65:66 67:0 72:5 73:01 83:0 84:2 85:55 87:3 88:8 89:0 90:3 91:0",
"4:4 12:8 17:2 20:0 25:3 29:1 30:0 31:3 32:9 33:0 34:5 35:4 36:33 38:0 39:49 41:3 42:43 44:0 45:39 47:0 50:0 51:4 52:5 53:0 57:3 58:1 59:3 60:44 63:5 64:1 67:1 70:0 75:00 89:8 90:0 91:1",
"32:2 34:8 36:9 37:44 40:5 41:3 43:2 44:5 46:0 48:0 49:4 50:8 51:9 52:0 56:3 58:0 68:0 72:8 89:2 90:0 91:2",
"90:0 91:2"
];

// ─── Colours ───
const levelChars = "0a1b2c3d4e56789";
const levelFractions = [0, .05, .10, .135, .17, .21, .25, .29, .33, .39, .45, .58, .75, .87, 1];
const parulaStops = [[0, '#352a87'], [.06, '#3138b0'], [.11, '#2148d8'], [.17, '#0363e1'], [.25, '#1485d4'], [.33, '#06a0c9'], [.42, '#1bb0b0'], [.5, '#50b99a'], [.58, '#8bbe77'], [.67, '#b9bc62'], [.75, '#dbb958'], [.83, '#f8bc3c'], [.9, '#fdd32c'], [1, '#f9fb0e']];

function parulaAt(f) {
    const hex = h => [1, 3, 5].map(i => parseInt(h.substr(i, 2), 16));
    for (let i = 1; i < parulaStops.length; i++) {
        if (f <= parulaStops[i][0]) {
            const [f0, c0] = parulaStops[i - 1], [f1, c1] = parulaStops[i];
            const t = (f - f0) / (f1 - f0), a = hex(c0), b = hex(c1);
            return `rgb(${a.map((v, j) => Math.round(v + (b[j] - v) * t)).join(',')})`;
        }
    }
    return parulaStops[parulaStops.length - 1][1];
}

// ─── Cells from the row tables ───
function cellsFromRows(rows) {
    const cells = [];
    rows.forEach((row, k) => {
        for (const tok of row.split(' ')) {
            const [pos, val] = tok.split(':');
            const [a, b] = pos.split('-').map(Number);
            const n = b === undefined ? val.length : b - a + 1;
            for (let i = 0; i < n; i++) {
                const ch = b === undefined ? val[i] : val;
                cells.push({ x: 7975 - 50 * (a + i), y: 0.0126 + 0.0592 * k, f: levelFractions[levelChars.indexOf(ch)] });
            }
        }
    });
    return cells;
}

const cellPlugin = {
    id: 'cellPlugin',
    beforeDatasetsDraw(chart) {
        const { ctx, scales: { x, y } } = chart;
        for (const c of chart.data.datasets[0].data) {
            const x0 = Math.round(x.getPixelForValue(c.x + 25)), x1 = Math.round(x.getPixelForValue(c.x - 25));
            const y0 = Math.round(y.getPixelForValue(c.y - 0.0296)), y1 = Math.round(y.getPixelForValue(c.y + 0.0296));
            ctx.fillStyle = parulaAt(c.f);
            ctx.fillRect(x0, y0, x1 - x0, y1 - y0);
        }
    }
};

const framePlugin = {
    id: 'framePlugin',
    afterDraw(chart) {
        const { ctx, chartArea: a } = chart;
        ctx.save();
        ctx.strokeStyle = '#000';
        ctx.lineWidth = 2.4;
        ctx.strokeRect(a.left, a.top, a.right - a.left, a.bottom - a.top);
        ctx.restore();
    }
};

const barPlugin = {
    id: 'barPlugin',
    beforeDatasetsDraw(chart) {
        const { ctx, chartArea: a } = chart;
        const g = ctx.createLinearGradient(0, a.bottom, 0, a.top);
        parulaStops.forEach(([f, c]) => g.addColorStop(f, c));
        ctx.fillStyle = g;
        ctx.fillRect(a.left, a.top, a.right - a.left, a.bottom - a.top);
    }
};

// ─── Shared axis options ───
const tickFont = { family: 'Liberation Serif', size: 42 };

function axis(values, extra, fit, padding = 8) {
    return Object.assign({
        type: 'linear',
        grid: { display: true, drawOnChartArea: false, color: '#000', tickColor: '#000', tickLength: 10, tickWidth: 2 },
        border: { display: false },
        ticks: { color: '#000', font: tickFont, padding, maxRotation: 0, autoSkip: false, callback: v => String(v) },
        afterBuildTicks: s => { s.ticks = values.map(v => ({ value: v })); },
        afterFit: s => { Object.assign(s, fit); }
    }, extra);
}

const baseOptions = (padding, scales) => ({
    responsive: false,
    animation: false,
    devicePixelRatio: 1,
    layout: { padding },
    plugins: { legend: { display: false }, tooltip: { enabled: false } },
    scales
});

// ─── a) distance histogram ───
const histEdge = i => i * binWidth;
const lastBin = spectraCounts.length;
const blueStep = [{ x: 0, y: 0 }].concat(spectraCounts.map((v, i) => ({ x: histEdge(i), y: v })), [{ x: histEdge(lastBin), y: spectraCounts[lastBin - 1] }, { x: histEdge(lastBin), y: 0 }]);
const redStep = [{ x: overflowBin[0], y: 0 }, { x: overflowBin[0], y: overflowCount }, { x: overflowBin[1], y: overflowCount }, { x: overflowBin[1], y: 0 }];

new Chart(document.getElementById('histChart'), {
    type: 'line',
    data: {
        datasets: [
            { data: redStep, stepped: 'before', fill: 'origin', backgroundColor: '#ff0000', borderColor: '#000', borderWidth: 3, pointRadius: 0, order: 2 },
            { data: blueStep, stepped: 'before', fill: 'origin', backgroundColor: '#137bd9', borderColor: '#000', borderWidth: 3, pointRadius: 0, order: 1 }
        ]
    },
    options: baseOptions({ top: 35, right: 42 }, {
        x: axis(histXTicks, { min: -202.5, max: 4252.5 }, { height: 145 }),
        y: axis(histYTicks, { min: 0, max: 38800 }, { width: 207 }, 11)
    }),
    plugins: [framePlugin]
});

// ─── b), c) Kiel diagrams ───
function kielChart(id, rows, left) {
    new Chart(document.getElementById(id), {
        type: 'scatter',
        data: { datasets: [{ data: cellsFromRows(rows), pointRadius: 0 }] },
        options: baseOptions({ top: 35, right: 580 - left - 442 }, {
            x: axis(teffTicks, { reverse: true, min: 8100, max: 2972 }, { height: 145 }),
            y: axis(loggTicks, { reverse: true, min: -0.5, max: 5.5 }, { width: left }, 11)
        }),
        plugins: [cellPlugin, framePlugin]
    });
}

function colorBar(id, ticks, min, max) {
    new Chart(document.getElementById(id), {
        type: 'scatter',
        data: { datasets: [{ data: [], pointRadius: 0 }] },
        options: baseOptions({ top: 35, bottom: 145, left: 17 }, {
            x: { display: false },
            y: axis(ticks, { position: 'right', min, max }, { width: 130 - 17 - 30 })
        }),
        plugins: [barPlugin, framePlugin]
    });
}

kielChart('parallaxChart', parallaxRows, 119);
colorBar('parallaxBar', parallaxTicks, 0, 20);
kielChart('snrChart', snrRows, 118);
colorBar('snrBar', snrTicks, 20, 75);
</script>
</body>
</html>
